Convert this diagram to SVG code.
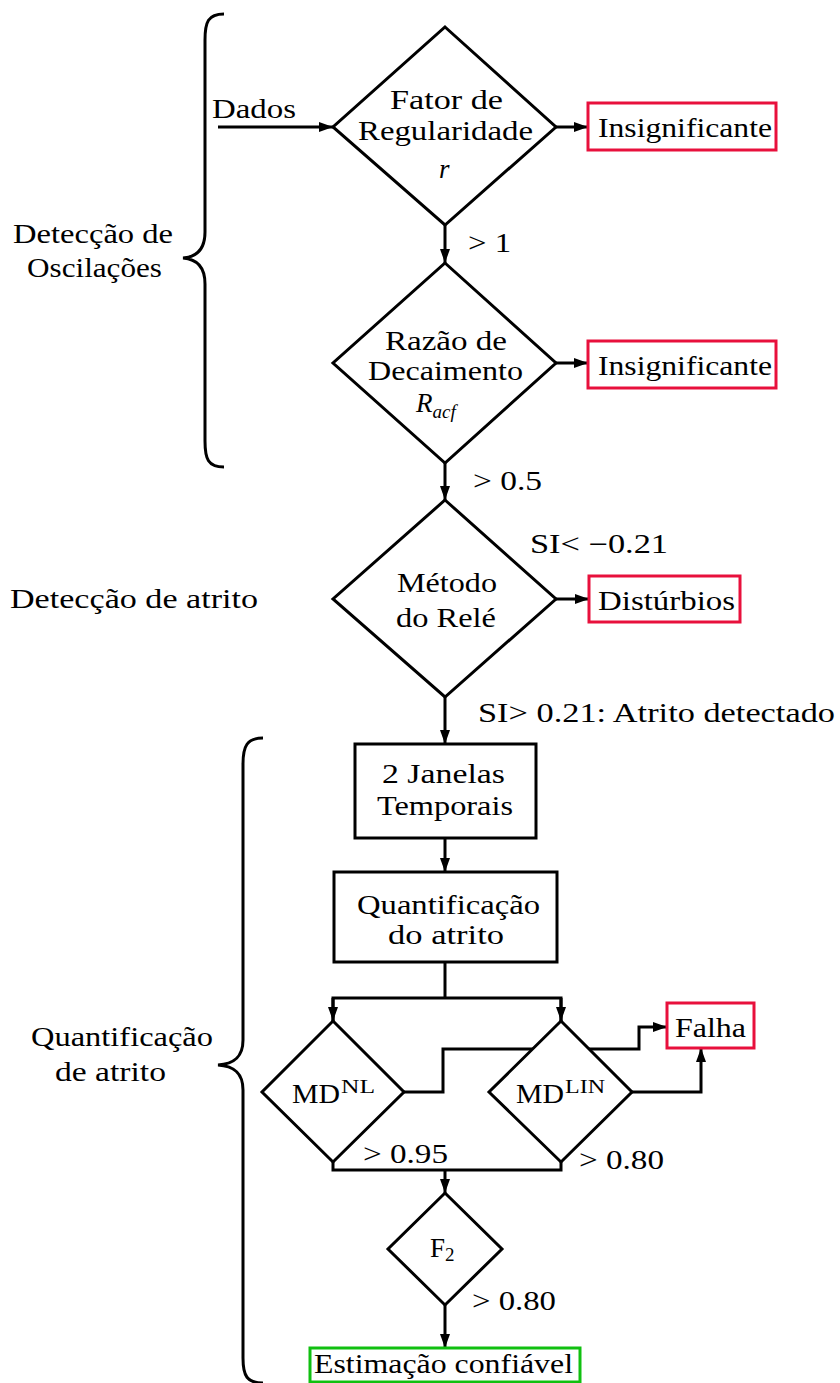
<svg xmlns="http://www.w3.org/2000/svg" width="840" height="1383" viewBox="0 0 840 1383">
<style>
text{font-family:"Liberation Serif","DejaVu Serif","Noto Serif",serif;font-size:27px;fill:#000}
.it{font-style:italic}
.sup{font-size:19px}
.shape{fill:#fff;stroke:#000;stroke-width:3}
.red{fill:#fff;stroke:#e8103c;stroke-width:3}
.green{fill:#fff;stroke:#10c010;stroke-width:3}
.conn{fill:none;stroke:#000;stroke-width:3}
.brace{fill:none;stroke:#000;stroke-width:3}
</style>
<defs>
<marker id="ah" viewBox="0 0 14 10" refX="14" refY="5" markerWidth="14" markerHeight="10" markerUnits="userSpaceOnUse" orient="auto">
<path d="M0,0 L14,5 L0,10 z" fill="#000"/>
</marker>
</defs>

<g id="braces">
<path class="brace" d="M224,14 C208,14 205,22 205,40 L205,232 C205,250 196,257 183,258 C196,259 205,266 205,284 L205,441 C205,459 208,467 224,467"/>
<path class="brace" d="M263,738 C247,738 243,746 243,764 L243,1040 C243,1058 233,1064 218,1065 C233,1066 243,1072 243,1090 L243,1358 C243,1376 247,1383 263,1383"/>
</g>

<g id="labels">
<text x="13" y="243" textLength="160" lengthAdjust="spacingAndGlyphs">Detecção de</text>
<text x="27" y="277" textLength="135" lengthAdjust="spacingAndGlyphs">Oscilações</text>
<text x="10" y="608" textLength="248" lengthAdjust="spacingAndGlyphs">Detecção de atrito</text>
<text x="31" y="1046" textLength="182" lengthAdjust="spacingAndGlyphs">Quantificação</text>
<text x="55" y="1081" textLength="111" lengthAdjust="spacingAndGlyphs">de atrito</text>
</g>

<g id="connectors">
<line class="conn" x1="218" y1="127" x2="333" y2="127" marker-end="url(#ah)"/>
<line class="conn" x1="556" y1="127" x2="588" y2="127" marker-end="url(#ah)"/>
<line class="conn" x1="445" y1="225" x2="445" y2="263" marker-end="url(#ah)"/>
<line class="conn" x1="556" y1="363" x2="588" y2="363" marker-end="url(#ah)"/>
<line class="conn" x1="445" y1="463" x2="445" y2="500" marker-end="url(#ah)"/>
<line class="conn" x1="556" y1="599" x2="589" y2="599" marker-end="url(#ah)"/>
<line class="conn" x1="445" y1="697" x2="445" y2="744" marker-end="url(#ah)"/>
<line class="conn" x1="445" y1="838" x2="445" y2="872" marker-end="url(#ah)"/>
<polyline class="conn" points="445,962 445,998"/>
<polyline class="conn" points="333,1021 333,998 561,998 561,1021"/>
<line class="conn" x1="333" y1="998" x2="333" y2="1021" marker-end="url(#ah)"/>
<line class="conn" x1="561" y1="998" x2="561" y2="1021" marker-end="url(#ah)"/>
<polyline class="conn" points="404,1092 443,1092 443,1049 639,1049 639,1027 667,1027" marker-end="url(#ah)"/>
<polyline class="conn" points="632,1092 701,1092 701,1048" marker-end="url(#ah)"/>
<polyline class="conn" points="333,1162 333,1170 561,1170 561,1162"/>
<line class="conn" x1="445" y1="1170" x2="445" y2="1193" marker-end="url(#ah)"/>
<line class="conn" x1="445" y1="1305" x2="445" y2="1348" marker-end="url(#ah)"/>
<text x="212" y="118" textLength="84" lengthAdjust="spacingAndGlyphs">Dados</text>
<text x="468" y="252" textLength="43" lengthAdjust="spacingAndGlyphs">&gt; 1</text>
<text x="473" y="490" textLength="69" lengthAdjust="spacingAndGlyphs">&gt; 0.5</text>
<text x="530" y="553" textLength="138" lengthAdjust="spacingAndGlyphs">SI&lt; −0.21</text>
<text x="478" y="722" textLength="357" lengthAdjust="spacingAndGlyphs">SI&gt; 0.21: Atrito detectado</text>
<text x="363" y="1163" textLength="85" lengthAdjust="spacingAndGlyphs">&gt; 0.95</text>
<text x="579" y="1169" textLength="85" lengthAdjust="spacingAndGlyphs">&gt; 0.80</text>
<text x="472" y="1310" textLength="84" lengthAdjust="spacingAndGlyphs">&gt; 0.80</text>
</g>

<g id="fator">
<polygon class="shape" points="445,27 556,127 445,225 333,127"/>
<text x="390" y="109" textLength="113" lengthAdjust="spacingAndGlyphs">Fator de</text>
<text x="358" y="140" textLength="175" lengthAdjust="spacingAndGlyphs">Regularidade</text>
<text class="it" x="439" y="178">r</text>
</g>

<g id="insig1">
<rect class="red" x="588" y="103" width="188" height="47"/>
<text x="598" y="137" textLength="174" lengthAdjust="spacingAndGlyphs">Insignificante</text>
</g>

<g id="razao">
<polygon class="shape" points="445,263 556,363 445,463 333,363"/>
<text x="385" y="350" textLength="122" lengthAdjust="spacingAndGlyphs">Razão de</text>
<text x="368" y="380" textLength="155" lengthAdjust="spacingAndGlyphs">Decaimento</text>
<text class="it" x="416" y="412">R<tspan class="sup" dy="6">acf</tspan></text>
</g>

<g id="insig2">
<rect class="red" x="588" y="341" width="188" height="47"/>
<text x="598" y="375" textLength="174" lengthAdjust="spacingAndGlyphs">Insignificante</text>
</g>

<g id="rele">
<polygon class="shape" points="445,500 556,599 445,697 333,599"/>
<text x="397" y="592" textLength="100" lengthAdjust="spacingAndGlyphs">Método</text>
<text x="396" y="627" textLength="100" lengthAdjust="spacingAndGlyphs">do Relé</text>
</g>

<g id="disturbios">
<rect class="red" x="589" y="576" width="151" height="46"/>
<text x="598" y="610" textLength="137" lengthAdjust="spacingAndGlyphs">Distúrbios</text>
</g>

<g id="janelas">
<rect class="shape" x="355" y="744" width="181" height="94"/>
<text x="382" y="783" textLength="123" lengthAdjust="spacingAndGlyphs">2 Janelas</text>
<text x="377" y="815" textLength="136" lengthAdjust="spacingAndGlyphs">Temporais</text>
</g>

<g id="quantificacao">
<rect class="shape" x="334" y="872" width="223" height="90"/>
<text x="357" y="914" textLength="183" lengthAdjust="spacingAndGlyphs">Quantificação</text>
<text x="388" y="944" textLength="116" lengthAdjust="spacingAndGlyphs">do atrito</text>
</g>

<g id="mdnl">
<polygon class="shape" points="333,1021 404,1092 333,1162 262,1092"/>
<text x="292" y="1103" textLength="48" lengthAdjust="spacingAndGlyphs">MD</text>
<text class="sup" x="341" y="1093" textLength="34" lengthAdjust="spacingAndGlyphs">NL</text>
</g>

<g id="mdlin">
<polygon class="shape" points="561,1021 632,1092 561,1162 489,1092"/>
<text x="516" y="1103" textLength="48" lengthAdjust="spacingAndGlyphs">MD</text>
<text class="sup" x="565" y="1093" textLength="40" lengthAdjust="spacingAndGlyphs">LIN</text>
</g>

<g id="falha">
<rect class="red" x="667" y="1003" width="87" height="45"/>
<text x="675" y="1037" textLength="71" lengthAdjust="spacingAndGlyphs">Falha</text>
</g>

<g id="f2">
<polygon class="shape" points="445,1193 502,1249 445,1305 388,1249"/>
<text x="430" y="1257">F<tspan class="sup" dy="4">2</tspan></text>
</g>

<g id="estimacao">
<rect class="green" x="310" y="1348" width="270" height="34"/>
<text x="314" y="1373" textLength="259" lengthAdjust="spacingAndGlyphs">Estimação confiável</text>
</g>
</svg>
